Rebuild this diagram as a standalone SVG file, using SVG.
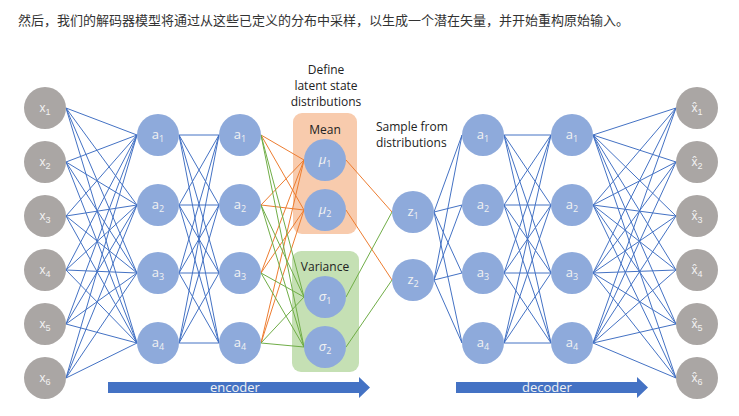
<svg xmlns="http://www.w3.org/2000/svg" width="739" height="416" viewBox="0 0 739 416">
<style>
.b{stroke:#4472c4;stroke-width:1;fill:none}
.o{stroke:#ed7d31;stroke-width:1;fill:none}
.g{stroke:#70ad47;stroke-width:1;fill:none}
.gn{fill:#aaa6a4}
.bn{fill:#8eaadb}
.nt{font-family:"Liberation Sans",Arial,sans-serif;font-size:12px;fill:#f2f2f2;text-anchor:middle}
.at{font-family:"Open Sans","Liberation Sans",sans-serif;font-size:13px;fill:#f2f2f2;text-anchor:middle}
.gt{font-family:"Open Sans","Liberation Sans",sans-serif;font-size:12px;fill:#222;text-anchor:middle}
.st{font-family:"Open Sans","Liberation Sans",sans-serif;font-size:12px;fill:#222}
.s{font-size:9px}
</style>
<rect width="739" height="416" fill="#fff"/>
<text x="18" y="25" font-family="Noto Sans CJK SC,sans-serif" font-size="13" fill="#333">然后，我们的解码器模型将通过从这些已定义的分布中采样，以生成一个潜在矢量，并开始重构原始输入。</text>
<rect x="293" y="113" width="64" height="121" rx="9" fill="#f8cbad"/>
<rect x="292" y="251" width="67" height="121" rx="9" fill="#c5e0b4"/>
<g id="connectors">
<path class="b" d="M66 108L137 135M66 108L137 205M66 108L137 273M66 108L137 343M66 162L137 135M66 162L137 205M66 162L137 273M66 162L137 343M66 216L137 135M66 216L137 205M66 216L137 273M66 216L137 343M66 270L137 135M66 270L137 205M66 270L137 273M66 270L137 343M66 324L137 135M66 324L137 205M66 324L137 273M66 324L137 343M66 378L137 135M66 378L137 205M66 378L137 273M66 378L137 343"/>
<path class="b" d="M179 135L219 135M179 135L219 205M179 135L219 273M179 135L219 343M179 205L219 135M179 205L219 205M179 205L219 273M179 205L219 343M179 273L219 135M179 273L219 205M179 273L219 273M179 273L219 343M179 343L219 135M179 343L219 205M179 343L219 273M179 343L219 343"/>
<path class="o" d="M261 135L304 160M261 135L304 210M261 205L304 160M261 205L304 210M261 273L304 160M261 273L304 210M261 343L304 160M261 343L304 210M346 160L392 212M346 210L392 280"/>
<path class="g" d="M261 135L304 297M261 135L304 347M261 205L304 297M261 205L304 347M261 273L304 297M261 273L304 347M261 343L304 297M261 343L304 347M346 297L392 212M346 347L392 280"/>
<path class="b" d="M434 212L462 135M434 212L462 205M434 212L462 273M434 212L462 343M434 280L462 135M434 280L462 205M434 280L462 273M434 280L462 343"/>
<path class="b" d="M504 135L551 135M504 135L551 205M504 135L551 273M504 135L551 343M504 205L551 135M504 205L551 205M504 205L551 273M504 205L551 343M504 273L551 135M504 273L551 205M504 273L551 273M504 273L551 343M504 343L551 135M504 343L551 205M504 343L551 273M504 343L551 343"/>
<path class="b" d="M593 135L676 108M593 135L676 162M593 135L676 216M593 135L676 270M593 135L676 324M593 135L676 378M593 205L676 108M593 205L676 162M593 205L676 216M593 205L676 270M593 205L676 324M593 205L676 378M593 273L676 108M593 273L676 162M593 273L676 216M593 273L676 270M593 273L676 324M593 273L676 378M593 343L676 108M593 343L676 162M593 343L676 216M593 343L676 270M593 343L676 324M593 343L676 378"/>
</g>
<g id="x1"><circle class="gn" cx="45" cy="108" r="21"/><text class="nt" x="45" y="112">x<tspan class="s" dy="3">1</tspan></text></g>
<g id="x2"><circle class="gn" cx="45" cy="162" r="21"/><text class="nt" x="45" y="166">x<tspan class="s" dy="3">2</tspan></text></g>
<g id="x3"><circle class="gn" cx="45" cy="216" r="21"/><text class="nt" x="45" y="220">x<tspan class="s" dy="3">3</tspan></text></g>
<g id="x4"><circle class="gn" cx="45" cy="270" r="21"/><text class="nt" x="45" y="274">x<tspan class="s" dy="3">4</tspan></text></g>
<g id="x5"><circle class="gn" cx="45" cy="324" r="21"/><text class="nt" x="45" y="328">x<tspan class="s" dy="3">5</tspan></text></g>
<g id="x6"><circle class="gn" cx="45" cy="378" r="21"/><text class="nt" x="45" y="382">x<tspan class="s" dy="3">6</tspan></text></g>
<g id="e1a1"><circle class="bn" cx="158" cy="135" r="21"/><text class="at" x="158" y="139">a<tspan class="s" dy="3">1</tspan></text></g>
<g id="e1a2"><circle class="bn" cx="158" cy="205" r="21"/><text class="at" x="158" y="209">a<tspan class="s" dy="3">2</tspan></text></g>
<g id="e1a3"><circle class="bn" cx="158" cy="273" r="21"/><text class="at" x="158" y="277">a<tspan class="s" dy="3">3</tspan></text></g>
<g id="e1a4"><circle class="bn" cx="158" cy="343" r="21"/><text class="at" x="158" y="347">a<tspan class="s" dy="3">4</tspan></text></g>
<g id="e2a1"><circle class="bn" cx="240" cy="135" r="21"/><text class="at" x="240" y="139">a<tspan class="s" dy="3">1</tspan></text></g>
<g id="e2a2"><circle class="bn" cx="240" cy="205" r="21"/><text class="at" x="240" y="209">a<tspan class="s" dy="3">2</tspan></text></g>
<g id="e2a3"><circle class="bn" cx="240" cy="273" r="21"/><text class="at" x="240" y="277">a<tspan class="s" dy="3">3</tspan></text></g>
<g id="e2a4"><circle class="bn" cx="240" cy="343" r="21"/><text class="at" x="240" y="347">a<tspan class="s" dy="3">4</tspan></text></g>
<g id="mu1"><circle class="bn" cx="325" cy="160" r="21"/><text class="at" x="325" y="164" font-style="italic">μ<tspan class="s" dy="3" font-style="normal">1</tspan></text></g>
<g id="mu2"><circle class="bn" cx="325" cy="210" r="21"/><text class="at" x="325" y="214" font-style="italic">μ<tspan class="s" dy="3" font-style="normal">2</tspan></text></g>
<g id="sigma1"><circle class="bn" cx="325" cy="297" r="21"/><text class="at" x="325" y="301" font-style="italic">σ<tspan class="s" dy="3" font-style="normal">1</tspan></text></g>
<g id="sigma2"><circle class="bn" cx="325" cy="347" r="21"/><text class="at" x="325" y="351" font-style="italic">σ<tspan class="s" dy="3" font-style="normal">2</tspan></text></g>
<g id="z1"><circle class="bn" cx="413" cy="212" r="21"/><text class="at" x="413" y="216">z<tspan class="s" dy="3">1</tspan></text></g>
<g id="z2"><circle class="bn" cx="413" cy="280" r="21"/><text class="at" x="413" y="284">z<tspan class="s" dy="3">2</tspan></text></g>
<g id="d1a1"><circle class="bn" cx="483" cy="135" r="21"/><text class="at" x="483" y="139">a<tspan class="s" dy="3">1</tspan></text></g>
<g id="d1a2"><circle class="bn" cx="483" cy="205" r="21"/><text class="at" x="483" y="209">a<tspan class="s" dy="3">2</tspan></text></g>
<g id="d1a3"><circle class="bn" cx="483" cy="273" r="21"/><text class="at" x="483" y="277">a<tspan class="s" dy="3">3</tspan></text></g>
<g id="d1a4"><circle class="bn" cx="483" cy="343" r="21"/><text class="at" x="483" y="347">a<tspan class="s" dy="3">4</tspan></text></g>
<g id="d2a1"><circle class="bn" cx="572" cy="135" r="21"/><text class="at" x="572" y="139">a<tspan class="s" dy="3">1</tspan></text></g>
<g id="d2a2"><circle class="bn" cx="572" cy="205" r="21"/><text class="at" x="572" y="209">a<tspan class="s" dy="3">2</tspan></text></g>
<g id="d2a3"><circle class="bn" cx="572" cy="273" r="21"/><text class="at" x="572" y="277">a<tspan class="s" dy="3">3</tspan></text></g>
<g id="d2a4"><circle class="bn" cx="572" cy="343" r="21"/><text class="at" x="572" y="347">a<tspan class="s" dy="3">4</tspan></text></g>
<g id="xh1"><circle class="gn" cx="697" cy="108" r="21"/><text class="nt" x="697" y="112">x̂<tspan class="s" dy="3">1</tspan></text></g>
<g id="xh2"><circle class="gn" cx="697" cy="162" r="21"/><text class="nt" x="697" y="166">x̂<tspan class="s" dy="3">2</tspan></text></g>
<g id="xh3"><circle class="gn" cx="697" cy="216" r="21"/><text class="nt" x="697" y="220">x̂<tspan class="s" dy="3">3</tspan></text></g>
<g id="xh4"><circle class="gn" cx="697" cy="270" r="21"/><text class="nt" x="697" y="274">x̂<tspan class="s" dy="3">4</tspan></text></g>
<g id="xh5"><circle class="gn" cx="697" cy="324" r="21"/><text class="nt" x="697" y="328">x̂<tspan class="s" dy="3">5</tspan></text></g>
<g id="xh6"><circle class="gn" cx="697" cy="378" r="21"/><text class="nt" x="697" y="382">x̂<tspan class="s" dy="3">6</tspan></text></g>
<g id="labels">
<text class="gt" x="326" y="74">Define</text>
<text class="gt" x="326" y="90">latent state</text>
<text class="gt" x="326" y="106">distributions</text>
<text class="gt" x="325" y="134">Mean</text>
<text class="gt" x="325" y="271">Variance</text>
<text class="st" x="376" y="131">Sample from</text>
<text class="st" x="376" y="147">distributions</text>
</g>
<g id="encoder"><path d="M108 382H359V377L370 387.5L359 398V393H108Z" fill="#4472c4"/><text class="at" x="235" y="392">encoder</text></g>
<g id="decoder"><path d="M456 382H637V377L648 387.5L637 398V393H456Z" fill="#4472c4"/><text class="at" x="547" y="392">decoder</text></g>
</svg>
